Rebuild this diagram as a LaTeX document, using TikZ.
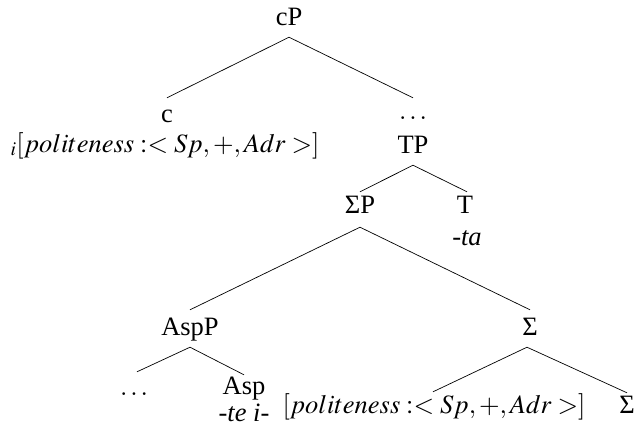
\documentclass[tikz,border=0pt]{standalone}
\usepackage{mathptmx}
\usepackage{fontspec}
\setmainfont{Liberation Serif}
\newfontfamily\treefont{Liberation Serif}
\begin{document}
\begin{tikzpicture}[x=1pt,y=-1pt,
  tn/.style={anchor=base, text height=14pt, text depth=5pt, inner xsep=0pt, inner ysep=7pt, font=\fontsize{26.5}{30}\treefont},
  ft/.style={anchor=base, inner sep=0pt, font=\fontsize{26.5}{30}\treefont},
  branch/.style={line width=0.7pt}]
\useasboundingbox (0,0) rectangle (635,429);
\node[tn] (cP) at (289,25) {cP};
\node[tn] (c) at (167,122) {c};
\node[ft] (cfeat) at (165,152) {${}_i[politeness:<Sp,+,Adr>]$};
\node[tn] (dots1) at (413,119) {$\ldots$};
\node[tn] (TP) at (413,153) {TP};
\node[tn] (SP) at (360,213) {ΣP};
\node[tn] (T) at (465,213) {T};
\node[ft] (ta) at (467,245) {\textit{-ta}};
\node[tn] (AspP) at (190,335) {AspP};
\node[tn] (Sig) at (530,335) {Σ};
\node[tn] (dots2) at (134,395) {$\ldots$};
\node[tn] (Asp) at (244,394) {Asp};
\node[ft] (tei) at (244,421) {\textit{-te i-}};
\node[tn] (pol) at (434,413) {$[politeness:<Sp,+,Adr>]$};
\node[tn] (Sig2) at (627,413) {Σ};
\draw[branch] (cP.south) -- ([yshift=3pt]c.north);
\draw[branch] (cP.south) -- (dots1.north);
\draw[branch] (TP.south) -- (SP.north);
\draw[branch] (TP.south) -- ([xshift=2pt]T.north);
\draw[branch] ([yshift=-2pt]SP.south) -- ([yshift=4pt]AspP.north);
\draw[branch] ([yshift=-2pt]SP.south) -- ([yshift=4pt]Sig.north);
\draw[branch] (AspP.south) -- ([xshift=3pt,yshift=2pt]dots2.north);
\draw[branch] (AspP.south) -- ([yshift=-2pt]Asp.north);
\draw[branch] ([xshift=-3pt]Sig.south) -- ([xshift=-1pt]pol.north);
\draw[branch] ([xshift=-3pt]Sig.south) -- ([yshift=-1pt]Sig2.north);
\end{tikzpicture}
\end{document}
